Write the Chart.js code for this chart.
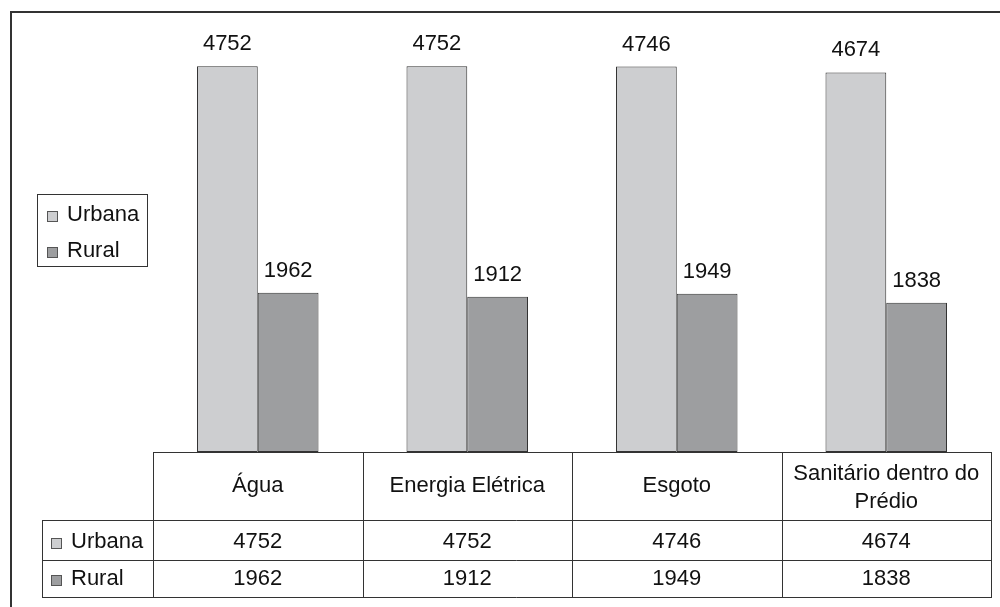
<!DOCTYPE html>
<html>
<head>
<meta charset="utf-8">
<script src="https://cdn.jsdelivr.net/npm/chart.js@4/dist/chart.umd.min.js"></script>
<style>
  html, body { margin: 0; padding: 0; background: #fff; }
  #wrap { width: 1000px; height: 607px; position: relative; }
</style>
</head>
<body>
<div id="wrap"><canvas id="c" width="1000" height="607"></canvas></div>
<script>
// Domicílios com serviços: urbana x rural
const categories = ["Água", "Energia Elétrica", "Esgoto", ["Sanitário dentro do", "Prédio"]];
const seriesNames = ["Urbana", "Rural"];
const urbana = [4752, 4752, 4746, 4674];
const rural = [1962, 1912, 1949, 1838];
const seriesColors = ["#cdced0", "#9d9ea0"];

const FONT = "22px 'Liberation Sans', Arial, sans-serif";
const LINE = "#333";
const TEXT = "#111";

const decor = {
  id: "decor",
  afterDraw(chart) {
    const ctx = chart.ctx;
    const xs = chart.scales.x;
    const area = chart.chartArea;
    const n = categories.length;
    const colW = (area.right - area.left) / n;
    const values = [urbana, rural];

    ctx.save();
    // outer frame (top and left)
    ctx.strokeStyle = "#333";
    ctx.lineWidth = 2;
    ctx.beginPath();
    ctx.moveTo(11, 607);
    ctx.lineTo(11, 12);
    ctx.lineTo(1000, 12);
    ctx.stroke();

    // value labels above bars
    ctx.font = FONT;
    ctx.fillStyle = TEXT;
    ctx.textAlign = "center";
    ctx.textBaseline = "alphabetic";
    chart.data.datasets.forEach((ds, di) => {
      chart.getDatasetMeta(di).data.forEach((bar, i) => {
        ctx.fillText(String(ds.data[i]), bar.x, bar.y - 16);
      });
    });

    // legend box
    ctx.lineWidth = 1;
    ctx.strokeStyle = LINE;
    ctx.strokeRect(37.5, 194.5, 110, 72);
    const legendY = [216, 252];
    seriesNames.forEach((name, k) => {
      ctx.fillStyle = seriesColors[k];
      ctx.fillRect(47, legendY[k] - 5, 10, 10);
      ctx.strokeStyle = "#555";
      ctx.strokeRect(47.5, legendY[k] - 4.5, 10, 10);
      ctx.fillStyle = TEXT;
      ctx.textAlign = "left";
      ctx.textBaseline = "middle";
      ctx.fillText(name, 67, legendY[k] - 1);
    });

    // data table
    const top = area.bottom;
    const headBottom = 520;
    const rowBottoms = [560, 597];
    const tableLeft = 42.5;
    const left = area.left;
    const right = area.left + colW * n;
    ctx.strokeStyle = LINE;
    ctx.lineWidth = 1;
    ctx.beginPath();
    ctx.moveTo(left, top + 0.5); ctx.lineTo(right, top + 0.5);
    ctx.moveTo(tableLeft, headBottom + 0.5); ctx.lineTo(right, headBottom + 0.5);
    ctx.moveTo(tableLeft, rowBottoms[0] + 0.5); ctx.lineTo(right, rowBottoms[0] + 0.5);
    ctx.moveTo(tableLeft, rowBottoms[1] + 0.5); ctx.lineTo(right, rowBottoms[1] + 0.5);
    ctx.moveTo(tableLeft, headBottom); ctx.lineTo(tableLeft, rowBottoms[1] + 1);
    for (let i = 0; i <= n; i++) {
      const x = Math.round(left + colW * i) + 0.5;
      ctx.moveTo(x, top); ctx.lineTo(x, rowBottoms[1] + 1);
    }
    ctx.stroke();

    // header labels
    ctx.fillStyle = TEXT;
    ctx.textAlign = "center";
    ctx.textBaseline = "middle";
    categories.forEach((c, i) => {
      const cx = xs.getPixelForValue(i);
      const lines = Array.isArray(c) ? c : [c];
      const lh = 28;
      const mid = (top + headBottom) / 2 + (lines.length > 1 ? 2 : 0);
      lines.forEach((t, j) => {
        ctx.fillText(t, cx, mid + (j - (lines.length - 1) / 2) * lh);
      });
    });

    // series rows
    const rowMid = [542, 579];
    seriesNames.forEach((name, k) => {
      ctx.fillStyle = seriesColors[k];
      ctx.fillRect(51, rowMid[k] - 4, 10, 10);
      ctx.strokeStyle = "#555";
      ctx.strokeRect(51.5, rowMid[k] - 3.5, 10, 10);
      ctx.fillStyle = TEXT;
      ctx.textAlign = "left";
      ctx.fillText(name, 71, rowMid[k]);
      ctx.textAlign = "center";
      values[k].forEach((v, i) => {
        ctx.fillText(String(v), xs.getPixelForValue(i), rowMid[k]);
      });
    });
    ctx.restore();
  }
};

new Chart(document.getElementById("c"), {
  type: "bar",
  data: {
    labels: categories,
    datasets: [
      { label: seriesNames[0], data: urbana, backgroundColor: seriesColors[0], borderColor: "#333", borderWidth: 1, borderSkipped: false },
      { label: seriesNames[1], data: rural, backgroundColor: seriesColors[1], borderColor: "#333", borderWidth: 1, borderSkipped: false }
    ]
  },
  options: {
    responsive: false,
    animation: false,
    devicePixelRatio: 1,
    categoryPercentage: 0.58,
    barPercentage: 1.0,
    layout: { padding: { left: 153, right: 9, top: 46, bottom: 155 } },
    plugins: { legend: { display: false }, tooltip: { enabled: false } },
    scales: {
      x: { display: false },
      y: { display: false, min: 0, max: 5000 }
    }
  },
  plugins: [decor]
});
</script>
</body>
</html>
